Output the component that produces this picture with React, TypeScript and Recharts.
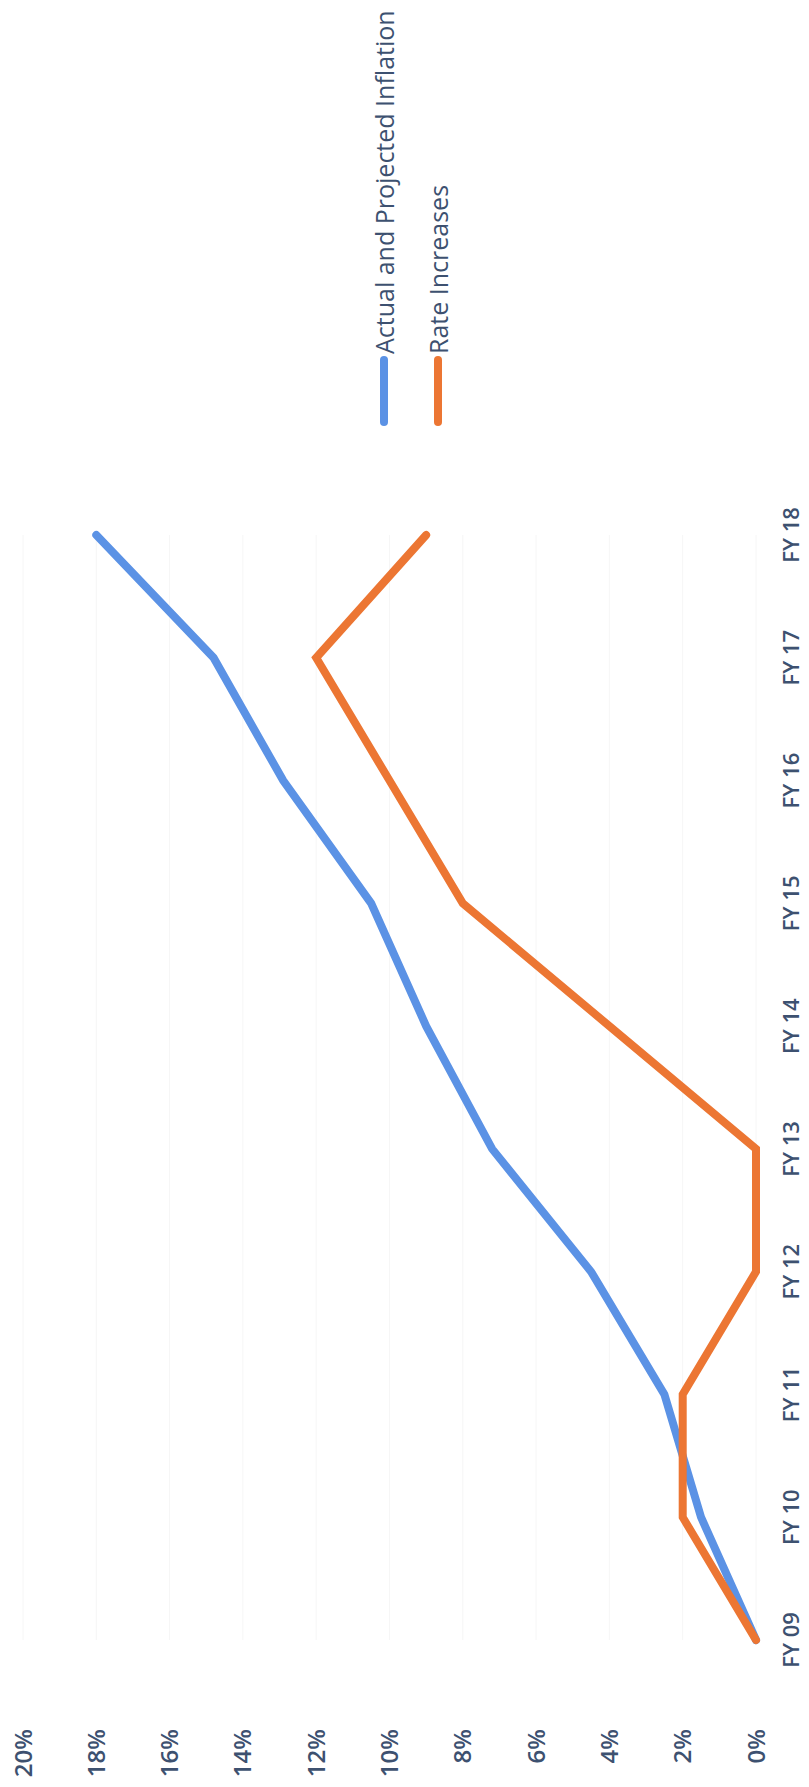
import React from 'react';
import { LineChart, Line, XAxis, YAxis, CartesianGrid, Legend } from 'recharts';

const categories = ['FY 09', 'FY 10', 'FY 11', 'FY 12', 'FY 13', 'FY 14', 'FY 15', 'FY 16', 'FY 17', 'FY 18'];
const inflation = [0, 1.5, 2.5, 4.5, 7.2, 9, 10.5, 12.9, 14.8, 18];
const rateIncreases = [0, 2, 2, 0, 0, 4, 8, 10, 12, 9];
const yTicks = [0, 2, 4, 6, 8, 10, 12, 14, 16, 18, 20];

const seriesNames = ['Actual and Projected Inflation', 'Rate Increases'];
const BLUE = '#5b92e5';
const ORANGE = '#ec7633';
const TEXT = '#3d5170';
const FONT = "'Open Sans', sans-serif";

const data = categories.map((c, i) => ({
  name: c,
  inflation: inflation[i],
  rate: rateIncreases[i],
}));

const W = 1787;
const H = 809;

const LegendContent = (props: any) => {
  const payload = props.payload || [];
  return (
    <div style={{ fontFamily: FONT }}>
      {payload.map((p: any, i: number) => (
        <div key={i} style={{ display: 'flex', alignItems: 'center', height: 54 }}>
          <svg width={72} height={12} style={{ display: 'block' }}>
            <line x1={4} y1={6} x2={66} y2={6} stroke={p.color} strokeWidth={8} strokeLinecap="round" />
          </svg>
          <span style={{ fontSize: 25, color: TEXT, whiteSpace: 'nowrap', lineHeight: '25px' }}>{p.value}</span>
        </div>
      ))}
    </div>
  );
};

export default function App() {
  return (
    <div style={{ position: 'absolute', left: 0, top: 0, width: 809, height: 1787, background: '#ffffff', overflow: 'hidden' }}>
      <div
        style={{
          position: 'absolute',
          left: 0,
          top: 0,
          width: W,
          height: H,
          transformOrigin: '0 0',
          transform: `translate(0px, ${W}px) rotate(-90deg)`,
        }}
      >
        <LineChart width={W} height={H} data={data} margin={{ top: 23, right: 535, bottom: 0, left: 0 }}>
          <CartesianGrid vertical={false} stroke="#f6f6f6" strokeWidth={1} />
          <XAxis
            dataKey="name"
            height={53}
            axisLine={false}
            tickLine={false}
            tickSize={0}
            tickMargin={27}
            interval={0}
            tick={{ fill: TEXT, fontSize: 22, fontFamily: FONT, fontWeight: 600 }}
          />
          <YAxis
            width={147}
            domain={[0, 20]}
            ticks={yTicks}
            axisLine={false}
            tickLine={false}
            tickSize={0}
            tickMargin={89}
            tickFormatter={(v: number) => `${v}%`}
            tick={{ fill: TEXT, fontSize: 24, fontFamily: FONT, fontWeight: 600 }}
          />
          <Legend
            layout="vertical"
            align="center"
            verticalAlign="middle"
            content={<LegendContent />}
            wrapperStyle={{ left: 1361, top: 357, width: 426 }}
          />
          <Line
            type="linear"
            dataKey="inflation"
            name={seriesNames[0]}
            stroke={BLUE}
            strokeWidth={8}
            strokeLinecap="round"
            dot={false}
            activeDot={false}
            isAnimationActive={false}
          />
          <Line
            type="linear"
            dataKey="rate"
            name={seriesNames[1]}
            stroke={ORANGE}
            strokeWidth={8}
            strokeLinecap="round"
            dot={false}
            activeDot={false}
            isAnimationActive={false}
          />
        </LineChart>
      </div>
    </div>
  );
}
